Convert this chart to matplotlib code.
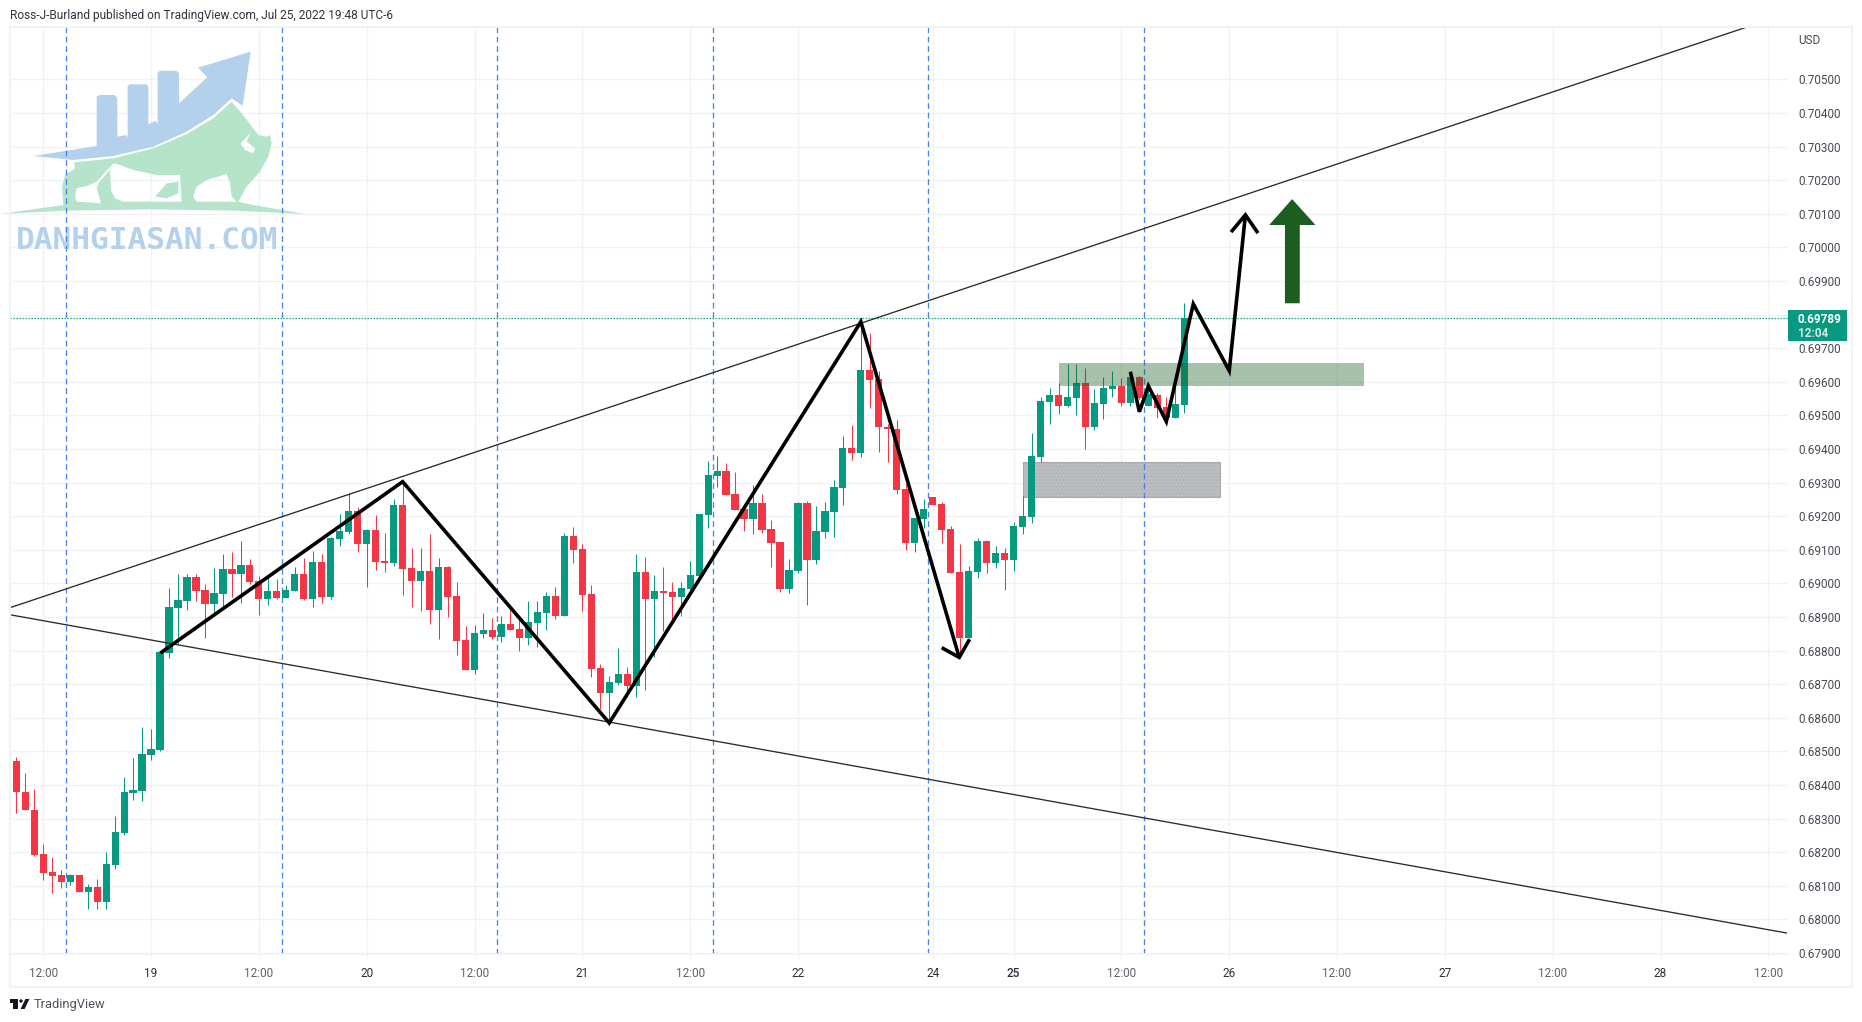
import numpy as np
import matplotlib
matplotlib.use("Agg")
import matplotlib.pyplot as plt
from matplotlib.patches import PathPatch, Polygon, Rectangle, Circle
from matplotlib.path import Path
from matplotlib.transforms import Affine2D

plt.rcParams['font.family'] = ['Roboto', 'DejaVu Sans']
plt.rcParams['hatch.linewidth'] = 0.5

W, H = 1862, 1022

# velas de una hora, precios en 1e-5
opens = [68379,
    68472, 68380, 68327, 68196, 68140, 68131, 68113, 68131, 68083, 68098,
    68051, 68161, 68256, 68377, 68383, 68490, 68505, 68793, 68927, 68948,
    69019, 68980, 68939, 68968, 69043, 69028, 69055, 69007, 68954, 68977,
    68957, 68977, 69028, 68954, 69063, 68960, 69132, 69153, 69215, 69117,
    69159, 69066, 69061, 69233, 69046, 69007, 69037, 68921, 69049, 68963,
    68832, 68743, 68849, 68861, 68841, 68879, 68864, 68838, 68882, 68912,
    68962, 68903, 69141, 69102, 68968, 68748, 68674, 68704, 68731, 68695,
    69034, 68953, 68977, 68974, 68959, 68983, 69022, 69203, 69319, 69334,
    69265, 69221, 69191, 69241, 69161, 69123, 68983, 69037, 69241, 69069,
    69152, 69212, 69283, 69402, 69387, 69634, 69608, 69467, 69461, 69280,
    69122, 69193, 69256, 69238, 69163, 69035, 68839, 69035, 69125, 69062,
    69092, 69071, 69169, 69199, 69375, 69539, 69560, 69527, 69551, 69596,
    69467, 69533, 69578, 69587, 69536, 69616, 69527, 69560, 69524, 69494,
    69530]
closes = [68472,
    68378, 68325, 68193, 68137, 68128, 68113, 68131, 68083, 68098, 68051,
    68164, 68259, 68380, 68386, 68493, 68508, 68796, 68930, 68951, 69019,
    68977, 68939, 68971, 69043, 69028, 69055, 69004, 68954, 68977, 68957,
    68980, 69028, 68954, 69063, 68960, 69135, 69156, 69215, 69117, 69159,
    69063, 69061, 69233, 69043, 69007, 69037, 68921, 69049, 68960, 68829,
    68743, 68853, 68861, 68841, 68879, 68861, 68838, 68885, 68915, 68962,
    68903, 69141, 69099, 68965, 68745, 68674, 68707, 68731, 68695, 69034,
    68953, 68977, 68971, 68959, 68986, 69025, 69206, 69322, 69334, 69262,
    69218, 69191, 69241, 69158, 69120, 68983, 69039, 69241, 69069, 69155,
    69215, 69286, 69402, 69387, 69634, 69605, 69465, 69459, 69277, 69122,
    69196, 69223, 69235, 69160, 69032, 68839, 69038, 69125, 69062, 69092,
    69071, 69172, 69202, 69378, 69542, 69560, 69527, 69554, 69596, 69467,
    69536, 69581, 69587, 69536, 69616, 69551, 69563, 69521, 69494, 69533,
    69789]
highs = [68472,
    68484, 68437, 68389, 68226, 68187, 68146, 68134, 68131, 68107, 68122,
    68202, 68309, 68425, 68481, 68573, 68567, 68796, 68986, 69028, 69028,
    69028, 68998, 69046, 69087, 69093, 69126, 69072, 69022, 69028, 69013,
    68995, 69049, 69075, 69096, 69087, 69138, 69206, 69268, 69227, 69162,
    69203, 69150, 69251, 69305, 69105, 69105, 69147, 69075, 69052, 69004,
    68873, 68876, 68912, 68897, 68903, 68921, 68894, 68947, 68947, 68974,
    68989, 69149, 69167, 69117, 68995, 68760, 68725, 68808, 68751, 69087,
    69078, 69025, 69048, 69004, 69004, 69066, 69206, 69366, 69378, 69360,
    69331, 69236, 69292, 69265, 69188, 69123, 69072, 69244, 69247, 69230,
    69244, 69307, 69440, 69473, 69781, 69745, 69631, 69476, 69488, 69295,
    69196, 69250, 69256, 69244, 69172, 69119, 69053, 69134, 69125, 69113,
    69107, 69184, 69260, 69447, 69554, 69581, 69598, 69652, 69652, 69640,
    69578, 69616, 69631, 69611, 69631, 69619, 69578, 69566, 69554, 69590,
    69834]
lows = [68379,
    68316, 68325, 68188, 68117, 68078, 68093, 68102, 68081, 68031, 68031,
    68031, 68150, 68250, 68357, 68354, 68475, 68502, 68778, 68820, 68921,
    68948, 68838, 68903, 68930, 68960, 68942, 68998, 68906, 68936, 68954,
    68957, 68977, 68951, 68930, 68942, 68954, 69111, 69147, 69093, 68989,
    69040, 69034, 69052, 68965, 68930, 68918, 68879, 68835, 68900, 68787,
    68743, 68731, 68838, 68835, 68826, 68861, 68799, 68817, 68811, 68861,
    68894, 68903, 69060, 68918, 68722, 68627, 68588, 68698, 68662, 68662,
    68683, 68781, 68858, 68894, 68903, 68971, 69007, 69164, 69286, 69262,
    69218, 69155, 69146, 69149, 69048, 68974, 68971, 69031, 68936, 69057,
    69135, 69138, 69233, 69369, 69375, 69521, 69390, 69363, 69265, 69101,
    69095, 69166, 69235, 69122, 69032, 68782, 68839, 69017, 69032, 69047,
    68982, 69038, 69146, 69181, 69363, 69476, 69503, 69524, 69500, 69399,
    69456, 69491, 69554, 69527, 69527, 69548, 69527, 69494, 69488, 69494,
    69506]
last_price = 0.69789

# eje de precios
price_ticks = [0.679 + 0.001 * k for k in range(27)]
price_labels = ["%.5f" % p for p in price_ticks]
price_labels[19] = ""   # lo tapa la etiqueta del ultimo precio

# eje de tiempo, en numero de vela
time_ticks = [3, 15, 27, 39, 51, 63, 75, 87, 102, 111, 123, 135, 147, 159, 171, 183, 195]
time_labels = ["12:00", "19", "12:00", "20", "12:00", "21", "12:00", "22", "24", "25",
               "12:00", "26", "12:00", "27", "12:00", "28", "12:00"]
session_lines = [5.56, 29.6, 53.5, 77.5, 101.5, 125.5]

# dibujos del autor (vela, precio)
upper_x, upper_y = [-0.7, 192.6], [0.68928, 0.70656]
lower_x, lower_y = [-0.7, 197.0], [0.68907, 0.67960]
wave_x = [16.03, 43.0, 66.0, 94.0, 104.95]
wave_y = [0.68793, 0.69303, 0.68585, 0.69779, 0.68780]
head1_x, head1_y = [103.0, 104.95, 106.1], [0.68809, 0.68780, 0.68834]
path_x = [124, 125, 126, 128, 131, 135, 136.8]
path_y = [0.69630, 0.69511, 0.69588, 0.69482, 0.69832, 0.69633, 0.70097]
head2_x, head2_y = [135.2, 136.8, 138.2], [0.70046, 0.70097, 0.70043]
up_arrow_x = [142.0, 144.6, 142.85, 142.85, 141.2, 141.2, 139.45]
up_arrow_y = [0.70144, 0.70067, 0.70067, 0.69834, 0.69834, 0.70067, 0.70067]
green_zone = [116, 150, 0.69589, 0.69656]
grey_zone = [112, 134, 0.69258, 0.69361]

GRID = "#f1f2f4"
UP = "#089981"
DOWN = "#f23645"

fig = plt.figure(figsize=(W / 100, H / 100), dpi=100, facecolor="white")
pix = Affine2D().scale(1, -1).translate(0, H)
ax = fig.add_axes([10 / W, 1 - 954 / H, 1778 / W, 927 / H])
ax.set_xlim(-0.70, 197.19)
ax.set_ylim(0.678973, 0.7065625)
ax.set_axisbelow(True)
ax.grid(color=GRID, lw=1.0)

for s in ["top", "left", "right"]:
    ax.spines[s].set_visible(False)
ax.spines["bottom"].set_color(GRID)
ax.spines["bottom"].set_linewidth(1.2)

ax.yaxis.tick_right()
ax.set_yticks(price_ticks)
ax.set_yticklabels(price_labels, fontsize=8.5, color="#474a55")
ax.tick_params(axis="y", length=0, pad=7.2)
ax.set_xticks(time_ticks)
ax.set_xticklabels(time_labels, fontsize=8.5)
ax.tick_params(axis="x", length=3, color=GRID, width=1, pad=6)
for t in ax.get_xticklabels():
    t.set_color("#5f626d" if ":" in t.get_text() else "#2a2e39")
    if t.get_text() == "25":
        t.set_fontweight(500)

# velas
o = np.array(opens) / 1e5
c = np.array(closes) / 1e5
hi = np.array(highs) / 1e5
lo = np.array(lows) / 1e5
xs = np.arange(len(o)) - 1
cols = [UP if b >= a else DOWN for a, b in zip(o, c)]
ax.vlines(xs, lo, hi, colors=cols, lw=0.75, zorder=3)
ax.bar(xs, np.abs(c - o), bottom=np.minimum(o, c), width=7.2 / 8.985, color=cols, lw=0, zorder=3.1)

# lineas verticales y ultimo precio
for x in session_lines:
    ax.axvline(x, color="#4a84e6", lw=0.95, ls=(0, (4.4, 2.8)), zorder=2.5)
ax.axhline(last_price, color=UP, lw=0.9, ls=(0, (1.1, 1.3)), zorder=2.6)

# zonas
ax.add_patch(Rectangle((grey_zone[0], grey_zone[2]), grey_zone[1] - grey_zone[0], grey_zone[3] - grey_zone[2],
                       facecolor="#bcbdc1", edgecolor="#a9aaae", lw=0.8, hatch=".....", zorder=2))
ax.add_patch(Rectangle((green_zone[0], green_zone[2]), green_zone[1] - green_zone[0], green_zone[3] - green_zone[2],
                       facecolor="#1b5e20", alpha=0.38, lw=0, zorder=4))

# tendencias y ondas
ax.plot(upper_x, upper_y, color="#2a2a2a", lw=0.95, zorder=5)
ax.plot(lower_x, lower_y, color="#2a2a2a", lw=0.95, zorder=5)
for px, py in [(wave_x, wave_y), (head1_x, head1_y), (path_x, path_y), (head2_x, head2_y)]:
    ax.plot(px, py, color="black", lw=2.6, zorder=5.5, solid_joinstyle="miter", solid_capstyle="butt")
ax.add_patch(Polygon(np.column_stack([up_arrow_x, up_arrow_y]), closed=True, facecolor="#1b5e20", lw=0, zorder=6))

# etiqueta del ultimo precio
ax.add_patch(Rectangle((1788, 310), 59, 31, transform=pix, facecolor=UP, lw=0, clip_on=False, zorder=7))
ax.text(1798, 319, "0.69789", transform=pix, fontsize=8.5, color="white", fontweight="bold", va="center", zorder=8)
ax.text(1798, 333, "12:04", transform=pix, fontsize=8.5, color="#cfe9e2", fontweight="bold", va="center", zorder=8)
ax.text(1798, 40.5, "USD", transform=pix, fontsize=8.5, color="#474a55", va="center")

# marco exterior
fig.add_artist(Rectangle((10, 27), 1842, 960, transform=pix, fill=False, edgecolor="#f1f2f4", lw=1.6))

# textos de cabecera y pie
fig.text(10, 15, "Ross-J-Burland published on TradingView.com, Jul 25, 2022 19:48 UTC-6",
         transform=pix, fontsize=8.6, color="#2f333e", va="center")
fig.text(33.5, 1004.5, "TradingView", transform=pix, fontsize=9.3, color="#50535e", va="center")
fig.add_artist(Polygon([(10, 999), (17.6, 999), (17.6, 1009), (13.4, 1009), (13.4, 1002.6), (10, 1002.6)],
                       transform=pix, facecolor="#131722", lw=0))
fig.add_artist(Circle((21, 1001), 1.7, transform=pix, facecolor="#131722", lw=0))
fig.add_artist(Polygon([(20.6, 1009), (25.4, 999), (29.4, 999), (24.6, 1009)],
                       transform=pix, facecolor="#131722", lw=0))


# marca de agua, coordenadas en pixeles de la imagen (zoom x3)
def compound(outer, holes):
    verts, codes = [], []
    for k, ring in enumerate([outer] + holes):
        ring = np.array(ring, float) / 3
        area = np.sum(ring[:-1, 0] * ring[1:, 1] - ring[1:, 0] * ring[:-1, 1])
        if (area > 0) != (k == 0):
            ring = ring[::-1]
        verts += list(ring) + [ring[0]]
        codes += [Path.MOVETO] + [Path.LINETO] * (len(ring) - 1) + [Path.CLOSEPOLY]
    return Path(verts, codes)


blue_mark = [(100, 468), (290, 438), (290, 290), (300, 285), (345, 285), (352, 295), (352, 410), (378, 405),
             (383, 412), (383, 258), (390, 253), (440, 253), (445, 260), (445, 373), (468, 362), (473, 375),
             (473, 218), (480, 212), (530, 212), (537, 220), (537, 310), (622, 232), (594, 203), (752, 155),
             (728, 318), (695, 295), (640, 345), (560, 395), (460, 440), (340, 468), (220, 480)]
bull = [(0, 642), (190, 615), (186, 560), (195, 525), (225, 505), (222, 487), (340, 475), (460, 445), (560, 402),
        (640, 355), (695, 305), (725, 340), (775, 405), (800, 410), (810, 405), (815, 430), (805, 470), (780, 515),
        (740, 560), (715, 605), (760, 615), (915, 642), (700, 632), (450, 628), (200, 632)]
belly = [(345, 490), (400, 510), (470, 525), (540, 525), (545, 605), (370, 605), (345, 595), (333, 570), (330, 510)]
hind = [(225, 590), (230, 565), (260, 558), (290, 545), (340, 490), (345, 492), (295, 550), (290, 565), (303, 610), (230, 605)]
front = [(580, 590), (590, 560), (620, 540), (680, 522), (690, 550), (695, 590), (710, 605), (590, 605)]
eye = [(722, 430), (750, 400), (740, 425), (765, 445), (760, 460), (735, 450)]
leaf = [(465, 590), (500, 550), (535, 545), (535, 580), (500, 595)]

ax.add_patch(PathPatch(compound(blue_mark, []), transform=pix, facecolor="#b4d1ec", lw=0, clip_on=False, zorder=1.5))
ax.add_patch(PathPatch(compound(bull, [belly, hind, front, eye]), transform=pix, facecolor="#b6e4cb", lw=0,
                       clip_on=False, zorder=1.5))
ax.add_patch(PathPatch(compound(leaf, []), transform=pix, facecolor="#b6e4cb", lw=0, clip_on=False, zorder=1.5))
ax.text(147, 240.5, "DANHGIASAN.COM", transform=pix, family="DejaVu Sans Mono", fontweight="bold", fontsize=22.4,
        color="#b4d1ec", ha="center", va="center", zorder=1.6)

fig.savefig("out.png", dpi=100)
